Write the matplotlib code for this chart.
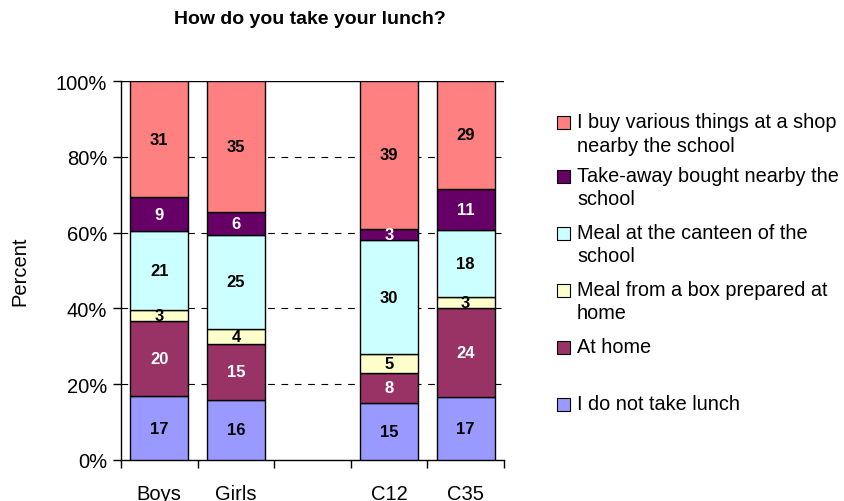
import numpy as np
import matplotlib
matplotlib.use("Agg")
import matplotlib.pyplot as plt
from matplotlib.patches import Rectangle

plt.rcParams['font.family'] = ['Liberation Sans', 'DejaVu Sans']

groups = ["Boys", "Girls", "", "C12", "C35"]
categories = ["I do not take lunch", "At home", "Meal from a box prepared at\nhome",
              "Meal at the canteen of the\nschool", "Take-away bought nearby the\nschool",
              "I buy various things at a shop\nnearby the school"]
colors = ['#9999FF', '#993366', '#FFFFCC', '#CCFFFF', '#660066', '#FF8080']
label_colors = ['black', 'white', 'black', 'black', 'white', 'black']

# rows: categories (bottom to top); columns: Boys, Girls, gap, C12, C35
values = np.array([
    [17, 16, 0, 15, 17],
    [20, 15, 0, 8, 24],
    [3, 4, 0, 5, 3],
    [21, 25, 0, 30, 18],
    [9, 6, 0, 3, 11],
    [31, 35, 0, 39, 29],
], dtype=float)

W, H = 845, 502
fig = plt.figure(figsize=(W / 100, H / 100), dpi=100)
ax = fig.add_axes([121 / W, 1 - 461 / H, 383 / W, 379 / H])

totals = values.sum(axis=0)
totals[totals == 0] = 1
shares = values / totals
x = np.arange(len(groups))
bottom = np.zeros(len(groups))
for i in range(len(categories)):
    mask = values[i] > 0
    ax.bar(x[mask], shares[i][mask], 0.76, bottom=bottom[mask], color=colors[i],
           edgecolor='black', linewidth=1, zorder=3)
    for xi, v, s, b in zip(x[mask], values[i][mask], shares[i][mask], bottom[mask]):
        ax.text(xi, b + s / 2, f"{int(v)}", ha='center', va='center', fontsize=12,
                fontweight='bold', color=label_colors[i], zorder=4)
    bottom += shares[i]

ax.set_xlim(-0.5, len(groups) - 0.5)
ax.set_ylim(0, 1)
for y in [0.2, 0.4, 0.6, 0.8]:
    ax.axhline(y, color='black', linestyle=(0, (6, 6)), linewidth=0.8, zorder=1)
ax.axhline(1.0, color='black', linewidth=1, zorder=1)

ax.set_yticks(np.linspace(0, 1, 6))
ax.set_yticklabels([f"{int(round(t * 100))}%" for t in np.linspace(0, 1, 6)], fontsize=14.5)
ax.set_xticks(x)
ax.set_xticklabels(groups, fontsize=14.5)
ax.tick_params(axis='x', length=0, pad=17)
ax.set_xticks(np.arange(-0.5, len(groups) + 0.5, 1), minor=True)
ax.tick_params(axis='x', which='minor', length=6, width=1, direction='out')
ax.tick_params(axis='y', length=6, width=1, direction='out', pad=4)
for side in ['top', 'right']:
    ax.spines[side].set_visible(False)
ax.spines['left'].set_linewidth(1)
ax.spines['bottom'].set_linewidth(1)
ax.set_ylabel("Percent", fontsize=14.5)
ax.yaxis.set_label_coords(-92 / 383, 0.5)

fig.text(310 / W, 1 - 20 / H, "How do you take your lunch?", ha='center', va='center',
         fontsize=14, fontweight='bold')

# legend, top entry first
leg_y = [405, 348, 291, 234, 177, 123]
for i in range(len(categories)):
    yc = leg_y[i]
    fig.patches.append(Rectangle((557 / W, 1 - (yc + 7) / H), 13 / W, 13 / H,
                                 transform=fig.transFigure, facecolor=colors[i],
                                 edgecolor='black', linewidth=0.8))
    fig.text(577 / W, 1 - (yc - 10) / H, categories[i], ha='left', va='top',
             fontsize=14.3, linespacing=1.3)

fig.savefig("out.png", dpi=100)
